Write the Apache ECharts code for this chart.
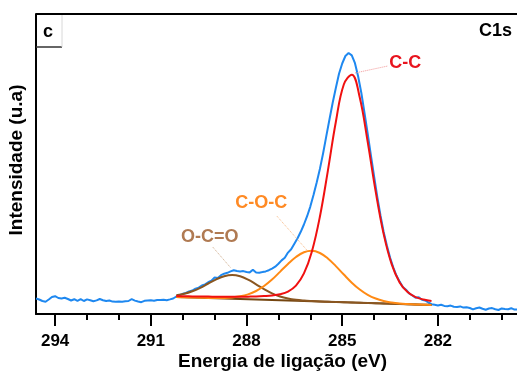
<!DOCTYPE html>
<html>
<head>
<meta charset="utf-8">
<script src="https://cdn.jsdelivr.net/npm/echarts@6/dist/echarts.min.js"></script>
<style>
  html, body { margin: 0; padding: 0; background: #fff; }
  #chart { width: 517px; height: 371px; }
</style>
</head>
<body>
<div id="chart"></div>
<script>
// C1s high-resolution XPS spectrum with its peak fit.

// Measured spectrum: [binding energy (eV), intensity (a.u.)]
const c1sMeasured = [
  [294.6,15.5],[294.5,14.5],[294.4,13.0],[294.3,12.3],[294.2,14.5],[294.1,17.0],[294.0,17.8],
  [293.9,16.0],[293.8,15.5],[293.7,16.2],[293.6,15.0],[293.5,13.5],[293.4,14.8],[293.3,13.2],
  [293.2,14.9],[293.1,13.0],[293.0,14.6],[292.9,13.8],[292.8,12.8],[292.7,13.6],[292.6,15.0],
  [292.5,13.8],[292.4,13.0],[292.3,13.5],[292.2,12.4],[292.1,12.2],[292.0,12.5],[291.9,12.3],
  [291.8,12.8],[291.7,13.0],[291.6,14.8],[291.5,13.4],[291.4,12.5],[291.3,11.8],[291.2,13.2],
  [291.1,13.5],[291.0,13.8],[290.9,13.2],[290.8,13.9],[290.7,14.0],[290.6,14.2],[290.5,13.8],
  [290.4,14.6],[290.3,15.5],[290.2,17.5],[290.1,18.8],[290.0,20.2],[289.9,21.0],[289.8,22.6],
  [289.7,23.5],[289.6,25.3],[289.5,26.4],[289.4,28.5],[289.3,29.6],[289.2,31.8],[289.1,33.4],
  [289.0,36.5],[288.9,36.0],[288.8,38.8],[288.7,40.3],[288.6,41.2],[288.5,42.6],[288.4,43.8],
  [288.3,43.0],[288.2,42.6],[288.1,42.9],[288.0,42.0],[287.9,41.6],[287.8,44.2],[287.7,41.5],
  [287.6,41.3],[287.5,41.9],[287.4,42.6],[287.3,43.8],[287.2,45.4],[287.1,47.3],[287.0,50.2],
  [286.9,53.6],[286.8,56.2],[286.7,61.4],[286.6,64.8],[286.5,70.3],[286.4,75.8],[286.3,82.2],
  [286.2,89.5],[286.1,97.8],[286.0,107.4],[285.9,119.0],[285.8,131.5],[285.7,145.0],
  [285.6,160.5],[285.5,177.6],[285.4,194.5],[285.3,211.0],[285.2,226.0],[285.1,240.2],
  [285.0,250.5],[284.9,258.0],[284.8,261.0],[284.7,258.6],[284.6,250.8],[284.5,237.5],
  [284.4,221.0],[284.3,200.8],[284.2,180.2],[284.1,158.5],[284.0,137.5],[283.9,117.0],
  [283.8,98.5],[283.7,82.0],[283.6,68.5],[283.5,56.4],[283.4,46.7],[283.3,38.5],[283.2,32.4],
  [283.1,27.0],[283.0,24.3],[282.9,20.5],[282.8,18.6],[282.7,16.2],[282.6,16.8],[282.5,14.2],
  [282.4,13.6],[282.3,11.5],[282.2,9.8],[282.1,9.2],[282.0,8.6],[281.9,9.3],[281.8,8.1],
  [281.7,7.8],[281.6,8.4],[281.5,7.2],[281.4,7.0],[281.3,7.6],[281.2,6.4],[281.1,6.8],
  [281.0,6.0],[280.9,4.6],[280.8,5.8],[280.7,6.5],[280.6,5.2],[280.5,4.3],[280.4,5.5],
  [280.3,5.9],[280.2,4.8],[280.1,4.0],[280.0,5.6],[279.9,5.0],[279.8,4.7],[279.7,5.8],
  [279.6,4.4],[279.5,4.6]
];

// Fit window energies (eV) shared by the fitted components
const fitEnergy = [290.2, 289.95, 289.7, 289.45, 289.2, 288.95, 288.7, 288.45, 288.2, 287.95,
  287.7, 287.45, 287.2, 286.95, 286.7, 286.45, 286.2, 285.95, 285.7, 285.45, 285.2, 284.95,
  284.7, 284.45, 284.2, 283.95, 283.7, 283.45, 283.2, 282.95, 282.7, 282.45, 282.2];

// Background under the fit
const fitBackground = [17, 16.75, 16.5, 16.25, 16, 15.75, 15.5, 15.25, 15, 14.75, 14.5, 14.25,
  14, 13.75, 13.5, 13.25, 13, 12.75, 12.5, 12.25, 12, 11.75, 11.5, 11.25, 11, 10.75, 10.5,
  10.25, 10, 9.75, 9.5, 9.25, 9];

// C-C component (drawn on the background)
const fitCC = [17.9, 17.8, 17.6, 17.5, 17.4, 17.3, 17.2, 17.2, 17.25, 17.35, 17.5, 17.9, 18.5,
  19.7, 22.4, 28.4, 40.6, 62.6, 97.3, 143.2, 192.0, 229.5, 239.3, 216.4, 171.8, 122.3, 79.9,
  49.9, 31.6, 21.9, 16.9, 14.5, 13.1];

// C-O-C component
const fitCOC = [17.0, 16.75, 16.5, 16.3, 16.1, 16.0, 16.1, 16.55, 17.65, 19.65, 23.0, 27.95,
  34.4, 42.15, 50.1, 57.05, 61.8, 63.25, 61.0, 55.55, 47.9, 39.45, 31.3, 24.45, 19.15, 15.45,
  13.0, 11.5, 10.55, 10.0, 9.6, 9.3, 9.0];

// O-C=O component
const fitOCO = [18.7, 20.2, 22.7, 26.2, 30.5, 34.65, 37.8, 38.95, 37.7, 34.35, 29.7, 24.9, 20.7,
  17.55, 15.45, 14.15, 13.4, 12.9, 12.5, 12.25, 12, 11.75, 11.5, 11.25, 11, 10.75, 10.5, 10.25,
  10, 9.75, 9.5, 9.25, 9];

const peakNames = ['C-C', 'C-O-C', 'O-C=O'];
const minorTicks = [294, 293, 292, 291, 290, 289, 288, 287, 286, 285, 284, 283, 282, 281, 280];
const majorTicks = [294, 291, 288, 285, 282];

const FONT = "'Liberation Sans', Arial, Helvetica, sans-serif";
const pair = (ys) => fitEnergy.map((e, i) => [e, ys[i]]);

const X_MIN = 279.52, X_MAX = 294.6;

function leader(from, to, color) {
  return {
    silent: true,
    symbol: ['none', 'none'],
    label: { show: false },
    lineStyle: { color: color, width: 1, type: 'dotted', opacity: 0.9 },
    data: [[{ coord: from }, { coord: to }]]
  };
}
function tag(at, text, color) {
  return {
    silent: true,
    data: [{
      coord: at, symbol: 'rect', symbolSize: 1,
      itemStyle: { color: 'rgba(0,0,0,0)' },
      label: {
        show: true, position: 'inside', formatter: text, color: color,
        fontSize: 18, fontWeight: 'bold', fontFamily: FONT
      }
    }]
  };
}

const chart = echarts.init(document.getElementById('chart'), null, { renderer: 'canvas' });

chart.setOption({
  animation: false,
  backgroundColor: '#fff',
  grid: { left: 36, top: 14, width: 481, height: 300, containLabel: false, outerBoundsMode: 'none' },
  xAxis: [
    {
      type: 'value', min: X_MIN, max: X_MAX, inverse: true, position: 'bottom',
      axisLine: { show: true, lineStyle: { color: '#000', width: 2 } },
      axisTick: { show: true, customValues: minorTicks, length: 6, lineStyle: { color: '#000', width: 2 } },
      axisLabel: { show: false },
      splitLine: { show: false }
    },
    {
      type: 'value', min: X_MIN, max: X_MAX, inverse: true, position: 'bottom', offset: 0,
      axisLine: { show: false },
      axisTick: { show: true, customValues: majorTicks, length: 12, lineStyle: { color: '#000', width: 2 } },
      axisLabel: {
        show: true, customValues: majorTicks, margin: 19,
        color: '#000', fontSize: 17, fontWeight: 'bold', fontFamily: FONT
      },
      splitLine: { show: false },
      name: 'Energia de ligação (eV)', nameLocation: 'middle', nameGap: 38, nameMoveOverlap: false,
      nameTextStyle: { color: '#000', fontSize: 19, fontWeight: 'bold', fontFamily: FONT, padding: [0, 0, 0, 12] }
    }
  ],
  yAxis: {
    type: 'value', min: 0, max: 300,
    axisLine: { show: true, lineStyle: { color: '#000', width: 2 } },
    axisTick: { show: false }, axisLabel: { show: false }, splitLine: { show: false },
    name: 'Intensidade (u.a)', nameLocation: 'middle', nameRotate: 90, nameGap: 10, nameMoveOverlap: false,
    nameTextStyle: { color: '#000', fontSize: 19, fontWeight: 'bold', fontFamily: FONT, padding: [0, 0, 0, 8] }
  },
  graphic: [
    { type: 'line', shape: { x1: 36, y1: 14, x2: 517, y2: 14 }, style: { stroke: '#000', lineWidth: 2 }, z: 10 },
    { type: 'rect', shape: { x: 37, y: 15, width: 25, height: 32 }, style: { fill: '#fff' }, z: 10 },
    { type: 'line', shape: { x1: 36, y1: 47, x2: 62, y2: 47 }, style: { stroke: '#333', lineWidth: 1.5 }, z: 10 },
    { type: 'line', shape: { x1: 62, y1: 15, x2: 62, y2: 47 }, style: { stroke: '#d8d8d8', lineWidth: 1 }, z: 10 },
    { type: 'text', x: 48, y: 32, z: 11,
      style: { text: 'c', fill: '#000', font: 'bold 18px ' + FONT, align: 'center', verticalAlign: 'middle' } },
    { type: 'text', x: 512, y: 31, z: 11,
      style: { text: 'C1s', fill: '#000', font: 'bold 18px ' + FONT, align: 'right', verticalAlign: 'middle' } }
  ],
  series: [
    {
      name: 'C1s', type: 'line', data: c1sMeasured, showSymbol: false, symbol: 'none',
      lineStyle: { color: '#1e88f0', width: 2 }, z: 2
    },
    {
      name: 'Background', type: 'line', data: pair(fitBackground), symbol: 'none',
      lineStyle: { color: '#74450f', width: 2 }, z: 3
    },
    {
      name: peakNames[2], type: 'line', data: pair(fitOCO), symbol: 'none', smooth: 0.4,
      lineStyle: { color: '#8a5620', width: 2 }, z: 4,
      markLine: leader([289.06, 67], [288.49, 46], '#c9a27e'),
      markPoint: tag([289.15, 76.5], peakNames[2], '#b07a52')
    },
    {
      name: peakNames[1], type: 'line', data: pair(fitCOC), symbol: 'none', smooth: 0.4,
      lineStyle: { color: '#ff8a14', width: 2 }, z: 5,
      markLine: leader([287.05, 98], [286.11, 64], '#f7b27a'),
      markPoint: tag([287.54, 111], peakNames[1], '#ff8a24')
    },
    {
      name: peakNames[0], type: 'line', data: pair(fitCC), symbol: 'none', smooth: 0.4,
      lineStyle: { color: '#f01010', width: 2 }, z: 6,
      markLine: leader([284.6, 241], [283.57, 248], '#f08a8a'),
      markPoint: tag([283.02, 250.5], peakNames[0], '#e8141e')
    }
  ]
});
</script>
</body>
</html>
